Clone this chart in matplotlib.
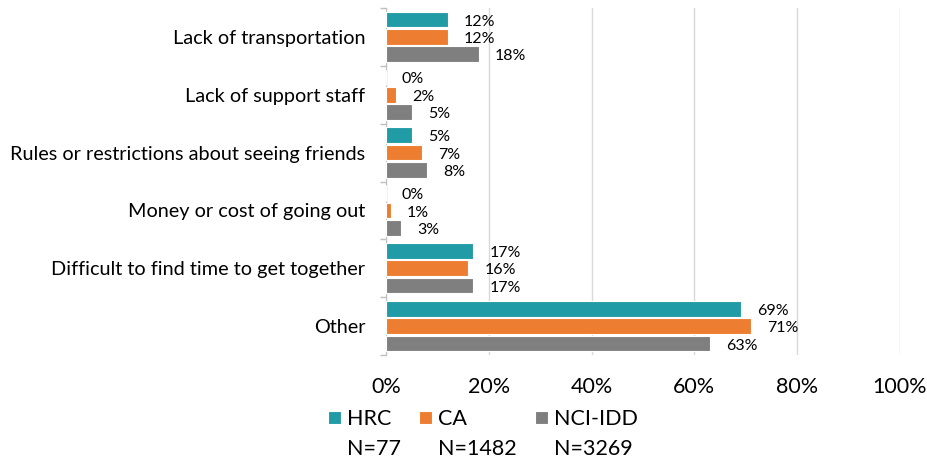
import numpy as np
import matplotlib.pyplot as plt
from matplotlib.patches import Patch

# data
categories = [
    "Lack of transportation",
    "Lack of support staff",
    "Rules or restrictions about seeing friends",
    "Money or cost of going out",
    "Difficult to find time to get together",
    "Other",
]
hrc = [12, 0, 5, 0, 17, 69]
ca = [12, 2, 7, 1, 16, 71]
nci = [18, 5, 8, 3, 17, 63]
series_names = ["HRC", "CA", "NCI-IDD"]
series_n = ["N=77", "N=1482", "N=3269"]
colors = ["#219BA5", "#ED7D31", "#7F7F7F"]

plt.rcParams['font.family'] = ['Lato', 'DejaVu Sans']

fig = plt.figure(figsize=(9.28, 4.62), dpi=100)
ax = fig.add_axes([386 / 928, 1 - 355 / 462, 514 / 928, 347 / 462])

y = np.arange(len(categories))
bar_h = 0.27
offsets = [-0.30, 0.0, 0.30]
handles = []
for vals, off, col, name in zip([hrc, ca, nci], offsets, colors, series_names):
    bars = ax.barh(y + off, vals, height=bar_h, color=col, edgecolor='white',
                   linewidth=0.8, label=name, zorder=3)
    handles.append(bars)
    for yy, v in zip(y + off, vals):
        ax.annotate(f"{v}%", (v, yy), xytext=(11.5, -1.5), textcoords='offset points',
                    ha='left', va='center', fontsize=11.5, color='#000000')

ax.set_xlim(0, 100)
ax.set_ylim(len(categories) - 0.5, -0.5)
ax.set_xticks(range(0, 101, 20))
ax.set_xticklabels([f"{t}%" for t in range(0, 101, 20)], fontsize=15.5)
ax.tick_params(axis='x', length=0, pad=16)
ax.set_yticks(y)
ax.set_yticklabels(categories, fontsize=14.3)
ax.tick_params(axis='y', which='major', length=0, pad=15)
ax.set_yticks(np.arange(-0.5, len(categories) + 0.5, 1), minor=True)
ax.tick_params(axis='y', which='minor', length=4, color='#BFBFBF', width=1)
ax.grid(axis='x', color='#D9D9D9', linewidth=1, zorder=0)
for s in ['top', 'right', 'bottom']:
    ax.spines[s].set_visible(False)
ax.spines['left'].set_color('#BFBFBF')

# legend: series name on first row, sample size on second row
blank = Patch(color='none')
leg_handles = []
leg_labels = []
for h, name, n in zip(handles, series_names, series_n):
    leg_handles += [h, blank]
    leg_labels += [name, n]
fig.legend(leg_handles, leg_labels, ncol=3, loc='upper left',
           bbox_to_anchor=(328 / 928, 1 - 409 / 462), frameon=False,
           fontsize=15.5, handlelength=0.6, handleheight=0.6, handletextpad=0.28,
           columnspacing=0.85, labelspacing=0.48, borderpad=0, borderaxespad=0)

fig.savefig("out.png", dpi=100)
